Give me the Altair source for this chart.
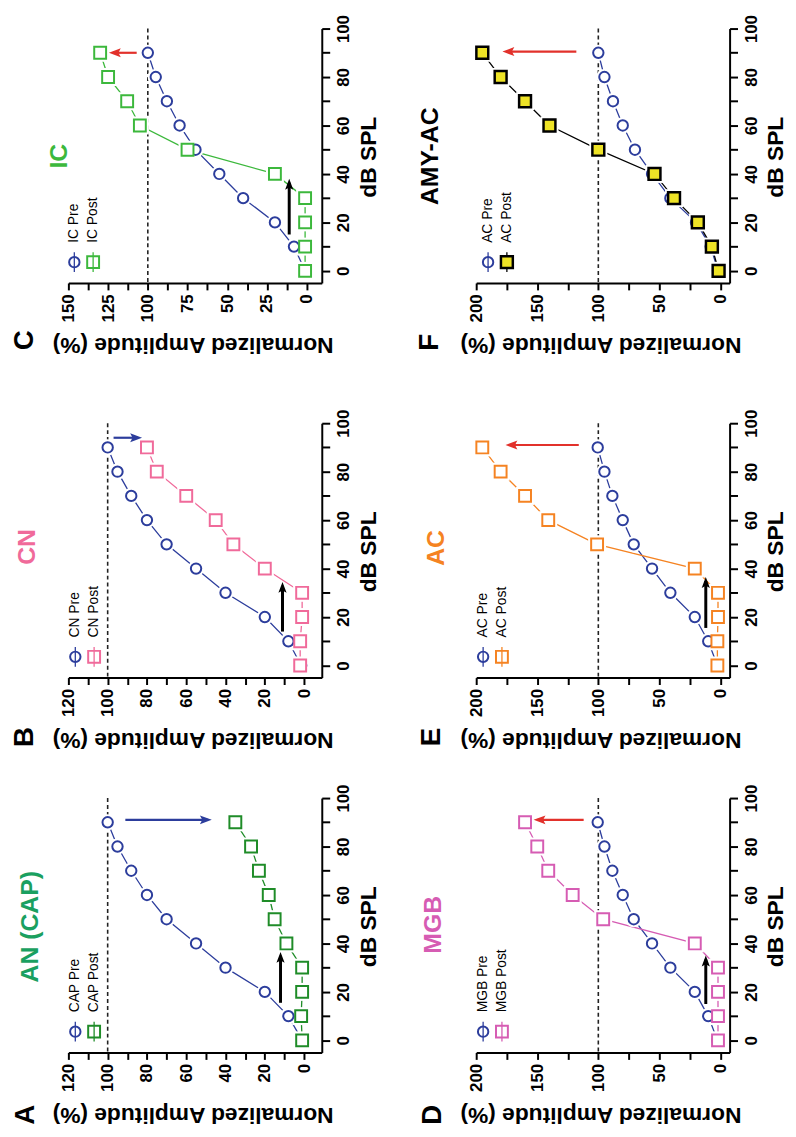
import altair as alt
import pandas as pd

FONT = "Liberation Sans"

BLUE = "#2c3d9c"
GREEN_A = "#1f8c28"
TEAL_A = "#1aa060"
PINK_B = "#f06a9a"
GREEN_C = "#3cb83c"
MAGENTA_D = "#d65cb3"
ORANGE_E = "#f58322"
YELLOW_F = "#eee326"
RED = "#e2312b"

DB = [0, 10, 20, 30, 40, 50, 60, 70, 80, 90]

A_PRE = [1, 8, 20, 40, 55, 70, 80, 88, 95, 100]
A_POST = [1, 1.5, 1, 1, 9, 15, 18, 23, 27, 35]
B_PRE = [1.5, 8, 20, 40, 55, 70, 80, 88, 95, 100]
B_POST = [2, 2, 1, 1, 20, 36, 45, 60, 75, 80]
C_PRE = [1, 8, 20, 40, 55, 70, 80, 88, 95, 100]
C_POST = [1, 1, 1, 1, 20, 75, 105, 113, 125, 130]
D_PRE = [2.5, 10, 21, 41, 56, 71, 80, 88.5, 95, 100.5]
D_POST = [2, 2, 2, 2, 21, 96, 121, 141, 150, 160]
E_PRE = [2.5, 10, 21, 41, 56, 71, 80, 88.5, 95, 100.5]
E_POST = [2.5, 2.5, 2, 2, 21, 101, 141, 160, 180, 195]
F_PRE = [2, 8, 20, 41, 56, 70, 80, 88, 95, 100]
F_POST = [1.5, 7, 18.5, 38, 54, 100, 140, 160, 180, 195]

# threshold-shift arrows: [amplitude, dB start, dB end]
A_BLACK = [12, 15.5, 36.5]
B_BLACK = [11, 14, 34.5]
C_BLACK = [11, 15, 38]
D_BLACK = [12, 15, 35]
E_BLACK = [12, 15.5, 36.5]
# amplitude-change arrows: [dB, amplitude start, amplitude end]
A_SHIFT = [91, 91, 47]
B_SHIFT = [94, 97, 82.5]
C_SHIFT = [90, 107, 124.5]
D_SHIFT = [91, 112, 153]
E_SHIFT = [91, 116, 176]
F_SHIFT = [90.5, 118, 178.5]

ONE = pd.DataFrame({"k": [0]})
W, H = 256, 257
RIGHT = "M0,0L-2,-0.75L-1.6,0L-2,0.75Z"
LEFT = "M0,0L2,-0.75L1.6,0L2,0.75Z"
UP = "M0,0L-0.75,2L0,1.6L0.75,2Z"


def text_layer(text, x, y, size, angle, color="black", weight="bold",
               align="center", baseline="middle"):
    return alt.Chart(ONE).mark_text(
        text=text, font=FONT, fontSize=size, fontWeight=weight, angle=angle,
        align=align, baseline=baseline, color=color
    ).encode(x=alt.value(x), y=alt.value(y))


def panel(c):
    xmin, xmax, step, lstep = c["xaxis"]
    n = int(round(xmax / step))
    ticks = [i * step for i in range(n + 1)]
    xs = alt.Scale(domain=[xmin, xmax], reverse=True, nice=False, zero=False)
    ys = alt.Scale(domain=[-5, 100], nice=False, zero=False)
    common = dict(title=None, grid=False, labelFont=FONT, labelFontSize=17,
                  labelFontWeight="bold", labelColor="black", tickColor="black",
                  tickWidth=2, domainColor="black", domainWidth=2,
                  labelOverlap=False, labelFlush=False)
    xa = alt.Axis(orient="bottom", values=ticks,
                  labelExpr=f"datum.value % {lstep} === 0 ? datum.label : ''",
                  labelAngle=270, labelAlign="right", labelBaseline="middle",
                  tickSize=7, labelPadding=4, **common)
    ya = alt.Axis(orient="right", values=list(range(0, 101, 10)),
                  labelExpr="datum.value % 20 === 0 ? datum.label : ''",
                  labelAngle=270, labelAlign="center", labelBaseline="top",
                  tickSize=8, labelPadding=6, **common)
    X = alt.X("amp:Q", scale=xs, axis=xa)
    Y = alt.Y("db:Q", scale=ys, axis=ya)

    pre = pd.DataFrame({"db": DB, "amp": c["pre"]})
    post = pd.DataFrame({"db": DB, "amp": c["post"]})
    layers = []
    layers.append(alt.Chart(ONE).mark_rect(opacity=0).encode(
        x=alt.value(-61), x2=alt.value(c["box_r"]),
        y=alt.value(-15), y2=alt.value(c["box_b"])))
    layers.append(alt.Chart(pd.DataFrame({"amp": [100]})).mark_rule(
        color="#222222", strokeWidth=1.6, strokeDash=[4, 3]).encode(x=X))
    layers.append(alt.Chart(pre).mark_line(color=BLUE, strokeWidth=1.3).encode(
        x=X, y=Y, order="db:Q"))
    layers.append(alt.Chart(post).mark_line(color=c["line"], strokeWidth=1.3).encode(
        x=X, y=Y, order="db:Q"))
    layers.append(alt.Chart(pre).mark_point(
        shape="circle", size=270, filled=True, fill="white", color="white",
        strokeWidth=0, opacity=1).encode(x=X, y=Y))
    layers.append(alt.Chart(post).mark_point(
        shape="square", size=330, filled=True, fill="white", color="white",
        strokeWidth=0, opacity=1).encode(x=X, y=Y))
    layers.append(alt.Chart(pre).mark_point(
        shape="circle", size=110, filled=True, fill="white", stroke=BLUE,
        strokeWidth=2, opacity=1).encode(x=X, y=Y))
    layers.append(alt.Chart(post).mark_point(
        shape="square", size=144, filled=True, fill=c["pfill"], stroke=c["pstroke"],
        strokeWidth=c["psw"], opacity=1).encode(x=X, y=Y))

    ppd = H / 105.0
    ppx = W / float(xmax - xmin)
    if c.get("black"):
        a, d0, d1 = c["black"]
        shaft = pd.DataFrame({"amp": [a], "db": [d0], "db2": [d1 - 4 / ppd]})
        layers.append(alt.Chart(shaft).mark_rule(color="black", strokeWidth=3).encode(
            x=X, y=Y, y2=alt.Y2("db2:Q")))
        head = pd.DataFrame({"amp": [a], "db": [d1]})
        layers.append(alt.Chart(head).mark_point(
            shape=UP, size=121, filled=True, color="black", strokeWidth=0,
            opacity=1).encode(x=X, y=Y))
    d, a0, a1 = c["shift"]
    sign = 1 if a1 > a0 else -1
    shaft = pd.DataFrame({"amp": [a0], "amp2": [a1 - sign * 4 / ppx], "db": [d]})
    layers.append(alt.Chart(shaft).mark_rule(color=c["acolor"], strokeWidth=2.2).encode(
        x=X, x2=alt.X2("amp2:Q"), y=Y))
    head = pd.DataFrame({"amp": [a1], "db": [d]})
    layers.append(alt.Chart(head).mark_point(
        shape=LEFT if a1 > a0 else RIGHT, size=144, filled=True, color=c["acolor"],
        strokeWidth=0, opacity=1).encode(x=X, y=Y))

    # legend
    lx, ly = c["legx"], 236
    lx2 = lx + 19
    layers.append(alt.Chart(ONE).mark_rule(color=BLUE, strokeWidth=1.3).encode(
        x=alt.value(lx), y=alt.value(ly - 10), y2=alt.value(ly + 10)))
    layers.append(alt.Chart(ONE).mark_rule(color=c["line"], strokeWidth=1.3).encode(
        x=alt.value(lx2), y=alt.value(ly - 10), y2=alt.value(ly + 10)))
    layers.append(alt.Chart(ONE).mark_point(
        shape="circle", size=110, filled=False, color=BLUE, strokeWidth=2,
        opacity=1).encode(x=alt.value(lx), y=alt.value(ly)))
    if c["pfill"] == "white":
        layers.append(alt.Chart(ONE).mark_point(
            shape="square", size=144, filled=False, color=c["pstroke"], strokeWidth=2,
            opacity=1).encode(x=alt.value(lx2), y=alt.value(ly)))
    else:
        layers.append(alt.Chart(ONE).mark_point(
            shape="square", size=144, filled=True, fill=c["pfill"], stroke=c["pstroke"],
            strokeWidth=c["psw"], opacity=1).encode(x=alt.value(lx2), y=alt.value(ly)))
    layers.append(text_layer(c["labels"][0], lx, ly - 19.5, 14, 270,
                             weight="normal", align="left"))
    layers.append(text_layer(c["labels"][1], lx2, ly - 19.5, 14, 270,
                             weight="normal", align="left"))

    # texts
    layers.append(text_layer(c["letter"], c["letter_pos"][0], c["letter_pos"][1], 28, 270))
    layers.append(text_layer(c["title"], c["title_pos"][0], c["title_pos"][1], 25, 270,
                             color=c["tcolor"]))
    layers.append(text_layer("Normalized Amplitude (%)", 126, 320, 23, 180))
    layers.append(text_layer("dB SPL", c["dbx"], 130, 23, 270))

    return alt.layer(*layers).properties(width=W, height=H)


CFG = {
    "A": dict(letter="A", letter_pos=(-43, 320), title="AN (CAP)", tcolor=TEAL_A,
              title_pos=(-39, 130), pre=A_PRE, post=A_POST, line=GREEN_A,
              pfill="white", pstroke=GREEN_A, psw=2, xaxis=(-9, 120, 10, 20),
              black=A_BLACK, shift=A_SHIFT, acolor=BLUE, legx=7,
              labels=("CAP Pre", "CAP Post"), box_r=320, box_b=332, dbx=304),
    "B": dict(letter="B", letter_pos=(-44, 317), title="CN", tcolor=PINK_B,
              title_pos=(-42, 125), pre=B_PRE, post=B_POST, line=PINK_B,
              pfill="white", pstroke=PINK_B, psw=2, xaxis=(-9, 120, 10, 20),
              black=B_BLACK, shift=B_SHIFT, acolor=BLUE, legx=7,
              labels=("CN Pre", "CN Post"), box_r=320, box_b=340, dbx=304),
    "C": dict(letter="C", letter_pos=(-44, 315), title="IC", tcolor=GREEN_C,
              title_pos=(-9, 129), pre=C_PRE, post=C_POST, line=GREEN_C,
              pfill="white", pstroke=GREEN_C, psw=2, xaxis=(-9.5, 150, 12.5, 25),
              black=C_BLACK, shift=C_SHIFT, acolor=RED, legx=6,
              labels=("IC Pre", "IC Post"), box_r=320, box_b=360, dbx=304),
    "D": dict(letter="D", letter_pos=(-44, 320), title="MGB", tcolor=MAGENTA_D,
              title_pos=(-44, 128), pre=D_PRE, post=D_POST, line=MAGENTA_D,
              pfill="white", pstroke=MAGENTA_D, psw=2, xaxis=(-7.5, 200, 25, 50),
              black=D_BLACK, shift=D_SHIFT, acolor=RED, legx=7,
              labels=("MGB Pre", "MGB Post"), box_r=315, box_b=332, dbx=303),
    "E": dict(letter="E", letter_pos=(-45, 317), title="AC", tcolor=ORANGE_E,
              title_pos=(-41, 126), pre=E_PRE, post=E_POST, line=ORANGE_E,
              pfill="white", pstroke=ORANGE_E, psw=2, xaxis=(-7.5, 200, 25, 50),
              black=E_BLACK, shift=E_SHIFT, acolor=RED, legx=7,
              labels=("AC Pre", "AC Post"), box_r=315, box_b=340, dbx=303),
    "F": dict(letter="F", letter_pos=(-47, 317), title="AMY-AC", tcolor="black",
              title_pos=(-47, 129), pre=F_PRE, post=F_POST, line="black",
              pfill=YELLOW_F, pstroke="black", psw=2.5, xaxis=(-7.5, 200, 25, 50),
              black=None, shift=F_SHIFT, acolor=RED, legx=12,
              labels=("AC Pre", "AC Post"), box_r=315, box_b=360, dbx=303),
}

top = alt.hconcat(panel(CFG["C"]), panel(CFG["F"]), spacing=31)
mid = alt.hconcat(panel(CFG["B"]), panel(CFG["E"]), spacing=31)
bot = alt.hconcat(panel(CFG["A"]), panel(CFG["D"]), spacing=31)

chart = alt.vconcat(top, mid, bot, spacing=23.7).properties(padding=0).configure(
    font=FONT).configure_view(stroke=None)

chart.save("out.html", embed_options={"renderer": "svg", "actions": False})
